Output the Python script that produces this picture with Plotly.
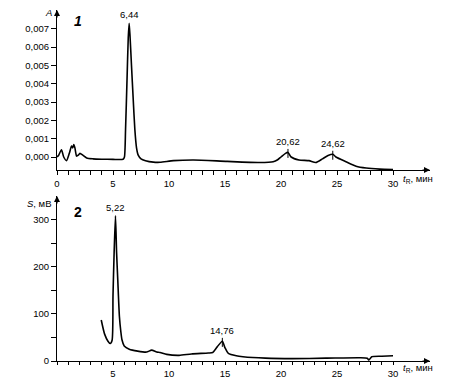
import plotly.graph_objects as go

# ---- data ----
t1 = [0.0, 0.15, 0.4, 0.6, 0.85, 1.1, 1.3, 1.4, 1.5, 1.6, 1.75, 1.9, 2.05, 2.3, 2.65, 3.2, 4.0, 5.0,
      5.9, 6.02, 6.12, 6.25, 6.36, 6.44, 6.52, 6.65, 6.8, 6.95, 7.1, 7.25, 7.5, 7.9, 8.6, 9.2,
      10.4, 12.2, 15.2, 18.1, 19.3, 19.7, 20.0, 20.4, 20.62, 20.9, 21.6, 22.5, 23.1, 23.7, 24.2,
      24.62, 24.9, 25.8, 26.7, 27.6, 28.8, 30.0]
a1 = [0.0, 0.0001, 0.0004, 0.0, -0.0002, 0.0002, 0.0006, 0.0005, 0.00068, 0.0005, 0.00005, 0.0001,
      0.0002, 0.0001, -0.00005, -0.0001, -0.00012, -0.00013,
      -0.00012, 0.0, 0.0015, 0.0042, 0.0065, 0.0073, 0.0066, 0.005, 0.0032, 0.0015, 0.0005, 0.0001,
      -0.0001, -0.0002, -0.00028, -0.00029,
      -0.0002, -0.00016, -0.00024, -0.0003, -0.00026, -0.00015, 0.0, 0.0002, 0.00025, 0.0, -0.00016,
      -0.0002, -0.0003, -0.0001, 0.00008, 0.00015, 0.0, -0.00026, -0.0005, -0.0006, -0.00066, -0.00068]

t2 = [3.95, 4.25, 4.55, 4.75, 4.92, 5.0, 5.1, 5.22, 5.32, 5.43, 5.57, 5.7, 5.8, 6.0, 6.45, 7.2, 8.0,
      8.45, 8.9, 9.2, 9.8, 10.9, 12.0, 13.5, 13.9, 14.3, 14.76, 15.0, 15.3, 16.0, 16.6, 18.6, 21.0,
      24.0, 27.0, 27.7, 27.85, 28.1, 29.0, 30.0]
s2 = [87, 57, 42, 37, 44, 140, 230, 308, 230, 170, 95, 62, 45, 32, 25, 21, 19,
      23, 19, 18, 14, 12, 15, 17, 18, 30, 42, 28, 16, 11, 9, 6, 5,
      6, 7, 6, 2, 9, 10, 11]

peaks1 = [(6.44, "6,44"), (20.62, "20,62"), (24.62, "24,62")]
peaks2 = [(5.22, "5,22"), (14.76, "14,76")]

ytick1 = [0.0, 0.001, 0.002, 0.003, 0.004, 0.005, 0.006, 0.007]
ytick1_text = ["0,000", "0,001", "0,002", "0,003", "0,004", "0,005", "0,006", "0,007"]
ytick2 = [0, 50, 100, 150, 200, 250, 300]
ytick2_text = ["0", "", "100", "", "200", "", "300"]
xticks = list(range(0, 31))
xtick1_text = [str(v) if v % 5 == 0 else "" for v in xticks]
xtick2_text = [str(v) if (v % 5 == 0 and v > 0) else "" for v in xticks]

# ---- layout helpers (pixel positions in the window; page body has an 8px margin) ----
W, H = 474, 378
OFF = 8
def px(x):
    return (x - OFF) / W
def py(y):
    return 1 - (y - OFF) / H

FONT = "Liberation Sans, Arial, sans-serif"
XR = [0, 33.3]
Y1R = [-0.00071, 0.00803]
Y2R = [0, 350]

fig = go.Figure()
fig.add_trace(go.Scatter(x=t1, y=a1, mode="lines", line=dict(color="black", width=1.6, shape="spline", smoothing=0.6),
                         xaxis="x", yaxis="y", showlegend=False, hoverinfo="skip"))
fig.add_trace(go.Scatter(x=t2, y=s2, mode="lines", line=dict(color="black", width=1.6, shape="spline", smoothing=0.6),
                         xaxis="x2", yaxis="y2", showlegend=False, hoverinfo="skip"))

axis_common = dict(showgrid=False, zeroline=False, showline=True, linecolor="black", linewidth=1.2,
                   ticks="outside", tickcolor="black", tickwidth=1, automargin=False,
                   tickfont=dict(family=FONT, size=9.5, color="black"))

fig.update_layout(
    width=W, height=H, autosize=False,
    margin=dict(l=0, r=0, t=0, b=0),
    paper_bgcolor="white", plot_bgcolor="white",
    xaxis=dict(domain=[px(57), px(430)], range=XR, anchor="y", tickvals=xticks, ticktext=xtick1_text,
               ticklen=4, **axis_common),
    yaxis=dict(domain=[py(170), py(10)], range=Y1R, anchor="x", tickvals=ytick1, ticktext=ytick1_text,
               ticklen=5, **axis_common),
    xaxis2=dict(domain=[px(57), px(430)], range=XR, anchor="y2", tickvals=xticks, ticktext=xtick2_text,
                ticklen=3, **axis_common),
    yaxis2=dict(domain=[py(361), py(196)], range=Y2R, anchor="x2", tickvals=ytick2, ticktext=ytick2_text,
                ticklen=5, **axis_common),
)

ann = []
lab_font = dict(family=FONT, size=9.5, color="black")
# axis arrows
for xr, yr, yb in [("x", "y", Y1R[0]), ("x2", "y2", Y2R[0])]:
    ann.append(dict(x=XR[1], y=yb, xref=xr, yref=yr, ax=-9, ay=0, text="", showarrow=True,
                    arrowhead=2, arrowsize=1, arrowwidth=1.2, arrowcolor="black"))
ann.append(dict(x=0, y=Y1R[1], xref="x", yref="y", ax=0, ay=9, text="", showarrow=True,
                arrowhead=2, arrowsize=1, arrowwidth=1.2, arrowcolor="black"))
ann.append(dict(x=0, y=Y2R[1], xref="x2", yref="y2", ax=0, ay=9, text="", showarrow=True,
                arrowhead=2, arrowsize=1, arrowwidth=1.2, arrowcolor="black"))

# axis titles
ann.append(dict(x=px(401), y=py(179), xref="paper", yref="paper", xanchor="left", yanchor="middle",
                text="<i>t</i><sub>R</sub>, мин", showarrow=False, font=lab_font))
ann.append(dict(x=px(401), y=py(368), xref="paper", yref="paper", xanchor="left", yanchor="middle",
                text="<i>t</i><sub>R</sub>, мин", showarrow=False, font=lab_font))
ann.append(dict(x=px(54), y=py(12), xref="paper", yref="paper", xanchor="right", yanchor="middle",
                text="<i>A</i>", showarrow=False, font=lab_font))
ann.append(dict(x=px(54), y=py(203), xref="paper", yref="paper", xanchor="right", yanchor="middle",
                text="<i>S</i>, мВ", showarrow=False, font=lab_font))
# panel numbers
ann.append(dict(x=px(78), y=py(21), xref="paper", yref="paper", xanchor="center", yanchor="middle",
                text="<b><i>1</i></b>", showarrow=False, font=dict(family=FONT, size=14, color="black")))
ann.append(dict(x=px(78), y=py(212), xref="paper", yref="paper", xanchor="center", yanchor="middle",
                text="<b>2</b>", showarrow=False, font=dict(family=FONT, size=14, color="black")))

# peak labels
def val_at(ts, vs, t):
    return vs[ts.index(t)]

for t, lbl in peaks1:
    v = val_at(t1, a1, t)
    if t < 10:
        ann.append(dict(x=t, y=v, xref="x", yref="y", text=lbl, showarrow=False, yanchor="bottom",
                        yshift=1, font=lab_font))
    else:
        ann.append(dict(x=t, y=v - 0.0003, xref="x", yref="y", ax=0, ay=-16, text=lbl, showarrow=True,
                        arrowhead=0, arrowwidth=1, arrowcolor="black", font=lab_font))
for t, lbl in peaks2:
    v = val_at(t2, s2, t)
    if t < 10:
        ann.append(dict(x=t, y=v, xref="x2", yref="y2", text=lbl, showarrow=False, yanchor="bottom",
                        yshift=1, font=lab_font))
    else:
        ann.append(dict(x=t, y=v - 12, xref="x2", yref="y2", ax=0, ay=-16, text=lbl, showarrow=True,
                        arrowhead=0, arrowwidth=1, arrowcolor="black", font=lab_font))

fig.update_layout(annotations=ann)
fig.write_html("out.html")
